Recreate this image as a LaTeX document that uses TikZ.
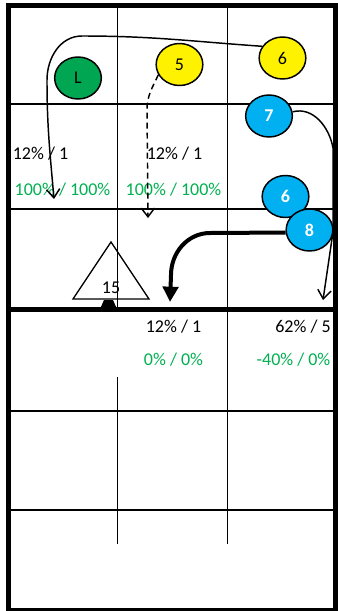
\documentclass[tikz,border=0pt]{standalone}
\usepackage{fontspec}
\setmainfont{Carlito}
\usepackage{tikz}
\usetikzlibrary{arrows.meta, shapes.geometric}

\definecolor{lgreen}{RGB}{0,166,81}
\definecolor{pgreen}{RGB}{0,176,80}
\definecolor{pblue}{RGB}{0,176,240}

\begin{document}
\begin{tikzpicture}[
      x=0.75pt, y=0.75pt,
      every node/.style={font=\fontsize{13.5}{16}\selectfont},
      player/.style={draw, ellipse, line width=1.1pt, minimum width=35pt, minimum height=31.5pt, inner sep=0pt},
      offense/.style={player, fill=yellow},
      defense/.style={player, fill=pblue, text=white, font=\fontsize{13.5}{16}\selectfont\bfseries},
      stat/.style={anchor=base},
      pct/.style={stat, text=pgreen},
      cell/.style={line width=1pt},
      border/.style={line width=3.6pt},
      route/.style={line width=1.1pt, -{Straight Barb[length=6.5pt,width=10pt]}},
      heavy/.style={line width=3pt, -{Triangle[length=11.5pt,width=11.5pt]}}
    ]
    \useasboundingbox (0,0) rectangle (338,-611);

    % field lines
    \foreach \y in {-104,-209,-411,-510}
      \draw[cell] (8.5,\y) -- (335.5,\y);
    \draw[cell] (117.5,-5.5) -- (117.5,-309.5);
    \draw[cell] (227.5,-5.5) -- (227.5,-309.5);
    \draw[cell] (117.5,-377) -- (117.5,-544);
    \draw[cell] (227.5,-309.5) -- (227.5,-544);
    \draw[border] (8.5,-5.5) rectangle (335.5,-610);
    \draw[border] (8.5,-309.5) -- (335.5,-309.5);

    % players
    \node[player, fill=lgreen] (lb) at (78,-78) {L};
    \node[offense] (y5) at (179.5,-64.5) {5};
    \node[offense] (y6) at (282.5,-58) {6};
    \node[defense] (b7) at (269,-116) {7};
    \node[defense] (b6) at (285.5,-196.5) {6};
    \node[defense] (b8) at (309.5,-230) {8};

    % cone
    \draw[line width=1pt] (73,-299) -- (111,-242) -- (149,-299) -- cycle;
    \node (c15) at (111,-287.5) {15};
    \fill (100,-309) -- (104,-300) -- (113,-300) -- (117,-309) -- cycle;

    % stats
    \node[stat] (s1) at (40.5,-159) {12\% / 1};
    \node[pct]  (p1) at (62.5,-195) {100\% / 100\%};
    \node[stat] (s2) at (174.5,-159) {12\% / 1};
    \node[pct]  (p2) at (173.5,-195) {100\% / 100\%};
    \node[stat] (s3) at (173.5,-332) {12\% / 1};
    \node[pct]  (p3) at (173.5,-365) {0\% / 0\%};
    \node[stat] (s4) at (303,-332) {62\% / 5};
    \node[pct]  (p4) at (293.5,-365) {-40\% / 0\%};

    % routes
    \coordinate (t1) at (54,-199);
    \coordinate (t2) at (148,-218);
    \coordinate (t3) at (323,-300);
    \coordinate (t4) at (170,-302);
    \draw[route] (y6.150) to[out=176,in=0] (82,-36) to[out=180,in=90] (47,-80) to[out=-90,in=95] (t1);
    \draw[route, dash pattern=on 4.5pt off 3pt] (y5.206) to[out=-115,in=90] (147,-110) -- (t2);
    \draw[route] (b7.10) to[out=15,in=100] (333,-148) -- (333,-232) -- (t3);
    \draw[heavy] (b8.186) -- (210,-233) to[out=180,in=90] (171,-275) -- (t4);
  \end{tikzpicture}
\end{document}
